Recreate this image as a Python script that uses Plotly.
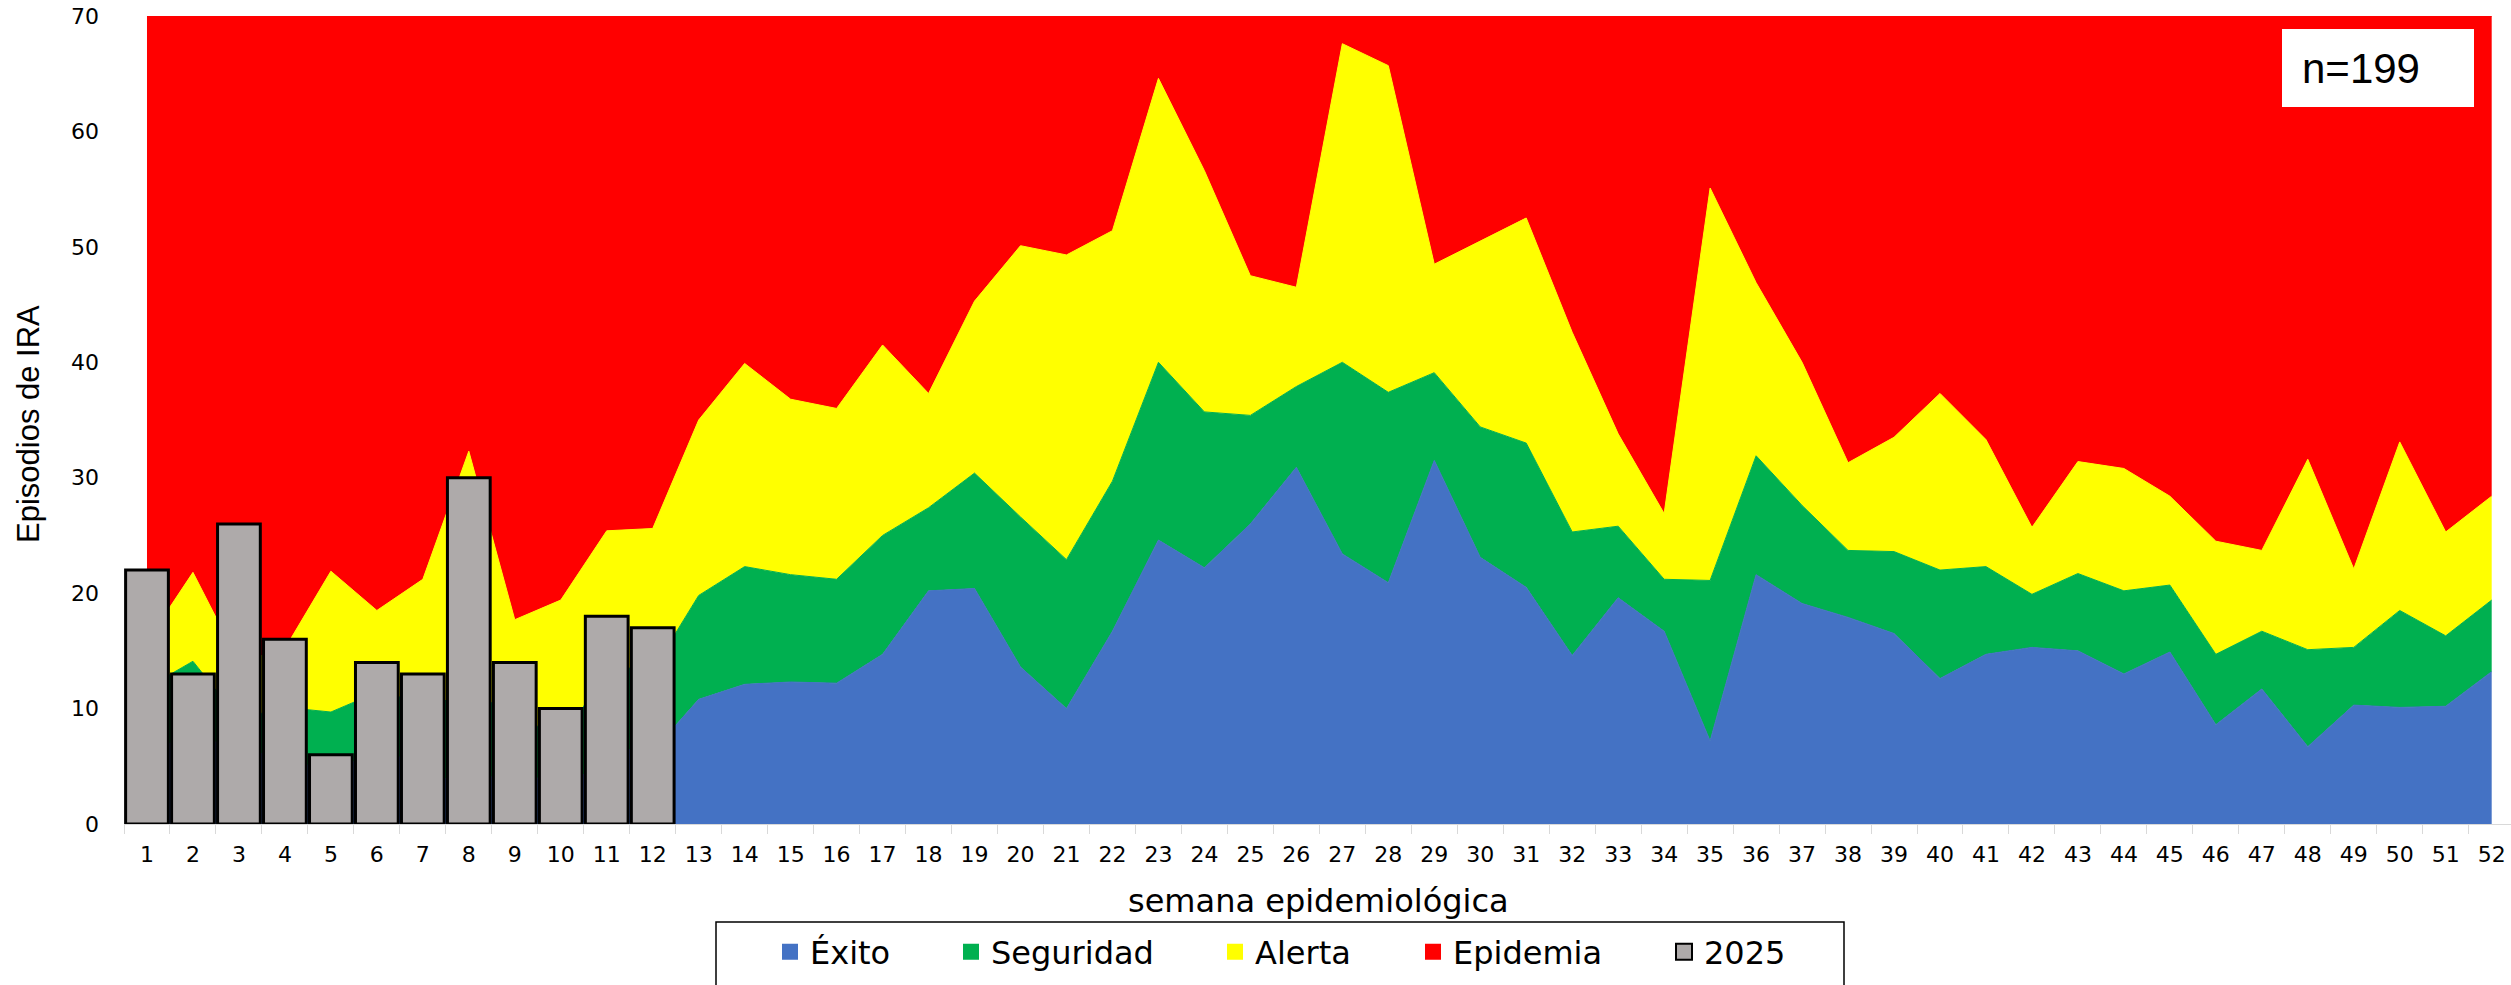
import plotly.graph_objects as go

# ---------------- data ----------------
weeks = [str(i) for i in range(1, 53)]

# upper limit of each endemic-corridor zone
exito = [6.5, 7.5, 6.7, 5.5, 4.7, 6.1, 5.5, 2.3, 5.9, 2.0, 6.6, 6.3,
         10.8, 12.1, 12.3, 12.2, 14.7, 20.2, 20.4, 13.6, 10.0, 16.7, 24.6, 22.2,
         26.0, 30.9, 23.4, 20.9, 31.5, 23.1, 20.5, 14.6, 19.6, 16.7, 7.2, 21.6,
         19.1, 17.9, 16.5, 12.6, 14.7, 15.3, 15.0, 13.0, 14.9, 8.6, 11.7, 6.7,
         10.3, 10.1, 10.2, 13.2]
seguridad = [11.8, 14.1, 9.1, 10.1, 9.7, 11.4, 10.6, 10.8, 10.2, 6.7, 13.7, 13.3,
             19.8, 22.3, 21.6, 21.2, 25.0, 27.4, 30.4, 26.6, 22.9, 29.7, 40.0, 35.7,
             35.4, 37.9, 40.0, 37.4, 39.1, 34.4, 33.0, 25.3, 25.8, 21.2, 21.1, 31.9,
             27.6, 23.7, 23.6, 22.0, 22.3, 19.9, 21.7, 20.2, 20.7, 14.7, 16.7, 15.1,
             15.3, 18.5, 16.3, 19.4]
alerta = [15.8, 21.8, 14.0, 15.2, 21.9, 18.5, 21.2, 32.3, 17.7, 19.4, 25.4, 25.6,
          35.0, 39.9, 36.8, 36.0, 41.5, 37.3, 45.3, 50.1, 49.3, 51.4, 64.6, 56.6,
          47.5, 46.5, 67.6, 65.7, 48.5, 50.5, 52.5, 42.6, 33.8, 26.9, 55.1, 46.9,
          40.0, 31.3, 33.5, 37.3, 33.3, 25.7, 31.4, 30.8, 28.4, 24.5, 23.7, 31.6,
          22.1, 33.1, 25.3, 28.4]
Y_MAX = 70
epidemia = [Y_MAX] * len(weeks)

weeks_2025 = weeks[:12]
cases_2025 = [22, 13, 26, 16, 6, 14, 13, 30, 14, 10, 18, 17]

series_names = ["Éxito", "Seguridad", "Alerta", "Epidemia", "2025"]

# ---------------- style ----------------
BLUE = "#4472C4"
GREEN = "#00B050"
YELLOW = "#FFFF00"
RED = "#FF0000"
GREY = "#AEAAAA"

W, H = 2511, 985
ML, MR, MT, MB = 124, 0, 16, 161
PW = W - ML - MR
PH = H - MT - MB


def px_x(px):
    return (px - ML) / PW


def px_y(py):
    return (H - MB - py) / PH


fig = go.Figure()

zones = [(exito, BLUE, "tozeroy"), (seguridad, GREEN, "tonexty"),
         (alerta, YELLOW, "tonexty"), (epidemia, RED, "tonexty")]
for vals, col, fill in zones:
    fig.add_trace(go.Scatter(
        x=weeks, y=vals, mode="lines", fill=fill, fillcolor=col,
        line=dict(color=col, width=1), showlegend=False, hoverinfo="skip"))

fig.add_trace(go.Bar(
    x=weeks_2025, y=cases_2025, xaxis="x2", yaxis="y2", width=0.93,
    marker=dict(color=GREY, line=dict(color="black", width=3)),
    showlegend=False))

# legend entries (one legend per entry for exact placement)
leg_colors = [BLUE, GREEN, YELLOW, RED, GREY]
leg_centers = [795, 976, 1240, 1438, 1689]
leg_ids = ["legend", "legend2", "legend3", "legend4", "legend5"]
for name, col, lid in zip(series_names, leg_colors, leg_ids):
    mk = dict(symbol="square", size=16, color=col)
    if name == "2025":
        mk["line"] = dict(color="black", width=2)
    else:
        mk["line"] = dict(color=col, width=0)
    fig.add_trace(go.Scatter(x=[None], y=[None], mode="markers", marker=mk,
                             name=name, legend=lid, showlegend=True))

legend_font = dict(family="DejaVu Sans", size=32, color="black")
layout_legends = {}
for lid, cx in zip(leg_ids, leg_centers):
    layout_legends[lid] = dict(
        x=px_x(cx - 25), y=px_y(952), xanchor="left", yanchor="middle",
        orientation="h", bgcolor="rgba(0,0,0,0)", borderwidth=0,
        font=legend_font, itemsizing="trace")

tick_font = dict(family="DejaVu Sans", size=22, color="black")
xr = [-0.5, 51.42]

fig.update_layout(
    width=W, height=H,
    margin=dict(l=ML, r=MR, t=MT, b=MB, pad=0),
    paper_bgcolor="white", plot_bgcolor="white",
    barmode="overlay",
    xaxis=dict(type="category", categoryorder="array", categoryarray=weeks,
               range=xr, tickson="boundaries", ticks="outside", ticklen=9,
               tickcolor="#d9d9d9", tickwidth=1, showline=True,
               linecolor="#d9d9d9", linewidth=1, showgrid=False,
               zeroline=False, tickfont=tick_font, ticklabelstandoff=11),
    yaxis=dict(range=[0, Y_MAX], dtick=10, tick0=0, showgrid=False,
               zeroline=False, ticks="", showline=False, tickfont=tick_font,
               ticklabelstandoff=24),
    xaxis2=dict(type="category", categoryorder="array", categoryarray=weeks,
                range=xr, overlaying="x", anchor="y2", visible=False),
    yaxis2=dict(range=[0, Y_MAX], overlaying="y", anchor="x2", visible=False),
    **layout_legends,
    shapes=[
        # legend frame
        dict(type="rect", xref="paper", yref="paper",
             x0=px_x(716), x1=px_x(1844), y0=px_y(922), y1=px_y(992),
             line=dict(color="black", width=1.5), fillcolor="rgba(0,0,0,0)",
             layer="above"),
        # n= box
        dict(type="rect", xref="paper", yref="paper",
             x0=px_x(2282), x1=px_x(2474), y0=px_y(29), y1=px_y(107),
             line=dict(width=0), fillcolor="white", layer="above"),
    ],
    annotations=[
        dict(text="n=199", xref="paper", yref="paper", x=px_x(2300),
             y=px_y(69), xanchor="left", yanchor="middle", showarrow=False,
             font=dict(family="Liberation Sans", size=42, color="black")),
        dict(text="Episodios de IRA", xref="paper", yref="paper",
             x=px_x(28), y=px_y(424), xanchor="center", yanchor="middle",
             textangle=-90, showarrow=False,
             font=dict(family="Liberation Sans", size=31, color="black")),
        dict(text="semana epidemiológica", xref="paper", yref="paper",
             x=px_x(1318), y=px_y(901), xanchor="center", yanchor="middle",
             showarrow=False,
             font=dict(family="DejaVu Sans", size=32, color="black")),
    ],
)

fig.write_html("out.html", config=dict(displayModeBar=False),
               post_script="document.body.style.margin='0px';")
